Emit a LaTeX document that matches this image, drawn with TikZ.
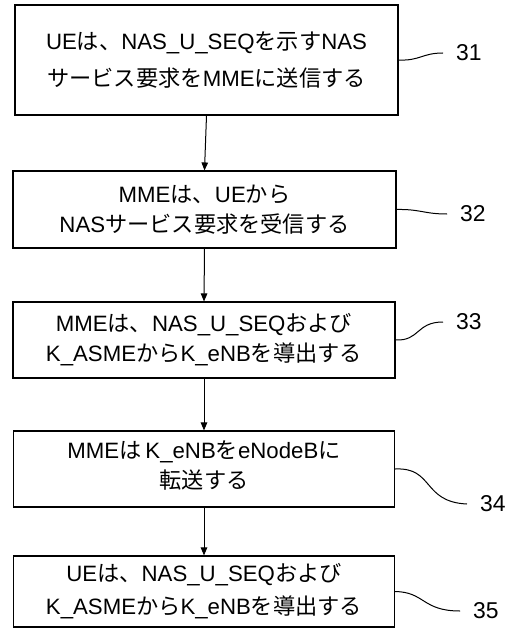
\documentclass[tikz,border=0pt]{standalone}
\usepackage{fontspec}
\setmainfont{Noto Sans CJK JP}
\newfontfamily\lat{Liberation Sans}
\newcommand\la[1]{{\lat #1}}
\usetikzlibrary{arrows.meta}

\begin{document}
\begin{tikzpicture}[x=1bp,y=-1bp,
  stepbox/.style={draw, line width=1.1bp, inner sep=0pt, align=center,
    font=\fontsize{22.3}{30}\selectfont},
  flow/.style={-{Triangle[length=8bp,width=6.5bp]}, line width=1bp},
  leader/.style={line width=1bp},
  refnum/.style={anchor=west, inner xsep=13bp, inner ysep=0pt,
    font=\fontsize{23}{26}\selectfont\lat}]
\useasboundingbox (0,0) rectangle (510,631);

% process steps
\node[stepbox, minimum width=383bp, minimum height=110bp] (b1) at (206.5,60)
  {\la{UE}は、\la{NAS\_U\_SEQ}を示す\la{NAS}\\[7bp]サービス要求を\la{MME}に送信する};
\node[stepbox, minimum width=383bp, minimum height=77bp] (b2) at (204.5,209.5)
  {\la{MME}は、\la{UE}から\\\la{NAS}サービス要求を受信する};
\node[stepbox, minimum width=382bp, minimum height=76bp] (b3) at (204,340)
  {\la{MME}は、\la{NAS\_U\_SEQ}および\\\la{K\_ASME}から\la{K\_eNB}を導出する};
\node[stepbox, minimum width=381bp, minimum height=76bp] (b4) at (204,469)
  {\la{MME}は\hspace{4bp}\la{K\_eNB}を\la{eNodeB}に\\転送する\strut};
\node[stepbox, minimum width=381bp, minimum height=71bp] (b5) at (204,591.5)
  {\la{UE}は、\la{NAS\_U\_SEQ}および\\[3bp]\la{K\_ASME}から\la{K\_eNB}を導出する};

% flow arrows
\draw[flow] (b1.south) -- (b2.north);
\draw[flow] (b2.south) -- (b3.north);
\draw[flow] (b3.south) -- (b4.north);
\draw[flow] (b4.south) -- (b5.north);

% reference numerals
\node[refnum] (l31) at (443,53) {31};
\node[refnum] (l32) at (447,214) {32};
\node[refnum] (l33) at (443,322) {33};
\node[refnum] (l34) at (467,504) {34};
\node[refnum] (l35) at (460,611) {35};

% leader lines
\draw[leader] (b1.east) .. controls (420,61) and (422,53) .. (l31.west);
\draw[leader] (b2.east) .. controls (420,209) and (424,214) .. (l32.west);
\draw[leader] (b3.east) .. controls (420,341) and (416,322) .. (l33.west);
\draw[leader] (b4.east) .. controls (434,467) and (422,502) .. (l34.west);
\draw[leader] (b5.east) .. controls (425,592) and (422,611) .. (l35.west);
\end{tikzpicture}
\end{document}
